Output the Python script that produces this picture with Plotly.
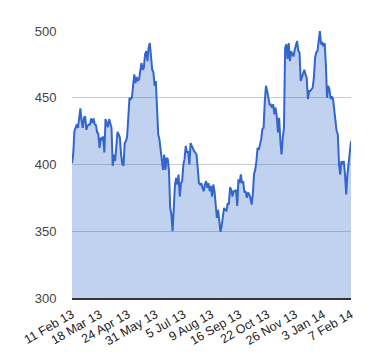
import plotly.graph_objects as go

prices_part1 = [
    401, 407.5, 425, 428, 430, 427.5, 437.5, 442, 432.5, 427.5, 435, 436, 426, 429, 430, 430,
    434.5, 431, 434.5, 430, 429.5, 424, 423, 412.5, 420, 419, 421, 409, 434, 430, 428, 434,
    430, 427.5, 399, 407.5, 402.5, 416, 424.5, 422.5, 420, 407.5, 400.5, 399, 416, 417.5,
    420.5, 435, 450, 449, 450, 459, 467.5, 461, 465.5, 462.5, 464, 470, 476, 471, 472.5,
    482.5, 485, 477.5, 487.5, 491, 477.5, 471, 469, 459, 462.5, 445, 422.5, 419, 412.5,
    402.5, 396, 407.5, 396, 405, 404, 395, 367.5, 362.5, 350, 367.5, 385, 390, 385, 392.5,
    376, 386, 387.5, 400, 404, 414, 409, 410, 400, 416, 414, 411, 410, 409, 407.5, 397.5,
    386, 385, 386, 382.5, 380, 385,
]
prices_part2 = [
    387.5, 382.5, 386, 380, 384, 376, 385, 380, 366, 360, 366, 355, 349.5, 354, 360, 367.5,
    366, 365.5, 371, 370, 383, 381, 376, 380, 380, 381, 369, 389, 386, 392.5, 386, 387.5,
    379, 380, 375, 379, 377.5, 375, 370, 377.5, 392.5, 396, 402.5, 412.5, 411, 415, 419,
    426.5, 427.5, 447.5, 459, 455, 449, 445, 445, 442.5, 445, 437.5, 442.5, 436, 424, 435,
    417.5, 407.5, 420, 427.5, 487.5, 490, 479, 491, 477.5, 485, 482.5, 481, 486, 488.5,
    492.5, 485, 484, 462.5, 465, 469, 471, 467.5, 465, 449, 455, 455, 456, 457.5, 465, 480,
    484, 485, 492.5, 500, 490, 491, 488.5, 491, 475, 450, 459, 456, 449, 451, 449, 440, 434,
    425, 422.5, 400, 392.5, 402.5, 400, 402.5, 392.5, 377.5, 392.5, 402.5, 410, 417.5,
]
prices = prices_part1 + prices_part2

tick_labels = ["11 Feb 13", "18 Mar 13", "24 Apr 13", "31 May 13", "5 Jul 13", "9 Aug 13",
               "16 Sep 13", "22 Oct 13", "26 Nov 13", "3 Jan 14", "7 Feb 14"]
y_ticks = [300, 350, 400, 450, 500]

n = len(prices)
x = list(range(n))
tick_pos = [i * (n - 1) / (len(tick_labels) - 1) for i in range(len(tick_labels))]

fig = go.Figure(go.Scatter(
    x=x, y=prices, mode="lines",
    line=dict(color="#3366cc", width=2),
    fill="tozeroy", fillcolor="rgba(51,102,204,0.3)",
    hoverinfo="skip",
))

fig.update_layout(
    width=380, height=360,
    margin=dict(l=72, r=29, t=31, b=62),
    paper_bgcolor="white", plot_bgcolor="white",
    showlegend=False,
    font=dict(family="Liberation Sans, Arial, sans-serif", size=13, color="#222222"),
)
fig.update_xaxes(
    range=[0, n - 1], tickmode="array", tickvals=tick_pos, ticktext=tick_labels,
    tickangle=-30, showgrid=False, zeroline=False,
    showline=True, linecolor="#333333", linewidth=1.5,
    ticks="outside", ticklen=3, tickcolor="rgba(0,0,0,0)", tickfont=dict(size=12.5),
)
fig.update_yaxes(
    range=[300, 500], tickmode="array", tickvals=y_ticks,
    showgrid=True, gridcolor="#cccccc", gridwidth=1, zeroline=False,
    ticks="outside", ticklen=12, tickcolor="rgba(0,0,0,0)",
    tickfont=dict(size=13, color="#444444"),
)

fig.write_html(
    "out.html",
    config={"displayModeBar": False, "staticPlot": True},
    post_script="document.body.style.margin='0';document.body.style.overflow='hidden';",
)
